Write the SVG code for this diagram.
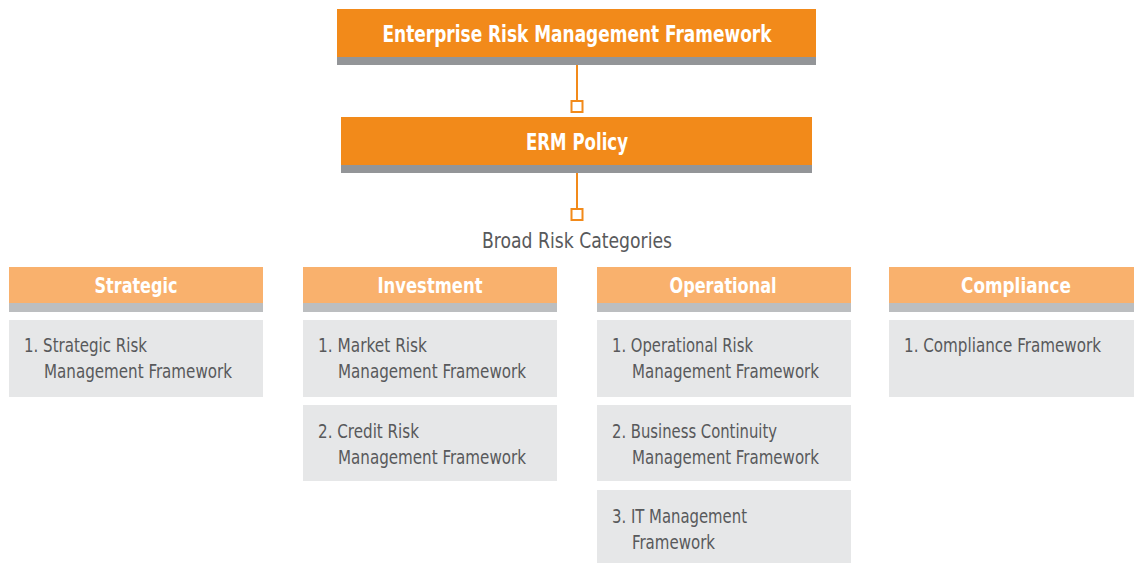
<svg xmlns="http://www.w3.org/2000/svg" width="1134" height="563" viewBox="0 0 1134 563">
<style>
.main{fill:#F28A1A}
.mainbar{fill:#939598}
.cat{fill:#F9B16D}
.catbar{fill:#BCBEC0}
.item{fill:#E6E7E8}
.t{font-family:"Liberation Sans Narrow","DejaVu Sans Condensed","Liberation Sans",sans-serif}
.wt{fill:#FFFFFF;font-weight:bold;text-anchor:middle}
.gt{fill:#58595B;font-size:19px}
.conn{stroke:#F28A1A;stroke-width:2;fill:none}
.sq{stroke:#F28A1A;stroke-width:2;fill:#FFFFFF}
</style>
<rect width="1134" height="563" fill="#FFFFFF"/>
<g id="connectors">
<line class="conn" x1="577" y1="65" x2="577" y2="101"/>
<rect class="sq" x="571.5" y="101" width="11" height="11"/>
<line class="conn" x1="577" y1="173" x2="577" y2="209"/>
<rect class="sq" x="571.5" y="209" width="11" height="11"/>
</g>
<g id="erm-framework">
<rect class="main" x="337" y="9" width="479" height="48"/>
<rect class="mainbar" x="337" y="57" width="479" height="8"/>
<text class="t wt" x="577" y="42" font-size="23" textLength="389" lengthAdjust="spacingAndGlyphs">Enterprise Risk Management Framework</text>
</g>
<g id="erm-policy">
<rect class="main" x="341" y="117" width="471" height="48"/>
<rect class="mainbar" x="341" y="165" width="471" height="8"/>
<text class="t wt" x="577" y="150" font-size="23" textLength="102" lengthAdjust="spacingAndGlyphs">ERM Policy</text>
</g>
<g id="broad-risk-categories">
<text class="t" x="577" y="248" font-size="22" fill="#58595B" text-anchor="middle" textLength="190" lengthAdjust="spacingAndGlyphs">Broad Risk Categories</text>
</g>
<g id="strategic">
<rect class="cat" x="9" y="267" width="254" height="36"/>
<rect class="catbar" x="9" y="303" width="254" height="9"/>
<text class="t wt" x="136" y="293" font-size="21" textLength="83" lengthAdjust="spacingAndGlyphs">Strategic</text>
</g>
<g id="strategic-1">
<rect class="item" x="9" y="320" width="254" height="77"/>
<text class="t gt" x="24" y="352" textLength="123" lengthAdjust="spacingAndGlyphs">1. Strategic Risk</text>
<text class="t gt" x="44" y="378" textLength="188" lengthAdjust="spacingAndGlyphs">Management Framework</text>
</g>
<g id="investment">
<rect class="cat" x="303" y="267" width="254" height="36"/>
<rect class="catbar" x="303" y="303" width="254" height="9"/>
<text class="t wt" x="430" y="293" font-size="21" textLength="105" lengthAdjust="spacingAndGlyphs">Investment</text>
</g>
<g id="investment-1">
<rect class="item" x="303" y="320" width="254" height="77"/>
<text class="t gt" x="318" y="352" textLength="109" lengthAdjust="spacingAndGlyphs">1. Market Risk</text>
<text class="t gt" x="338" y="378" textLength="188" lengthAdjust="spacingAndGlyphs">Management Framework</text>
</g>
<g id="investment-2">
<rect class="item" x="303" y="405" width="254" height="76"/>
<text class="t gt" x="318" y="438" textLength="101" lengthAdjust="spacingAndGlyphs">2. Credit Risk</text>
<text class="t gt" x="338" y="464" textLength="188" lengthAdjust="spacingAndGlyphs">Management Framework</text>
</g>
<g id="operational">
<rect class="cat" x="597" y="267" width="254" height="36"/>
<rect class="catbar" x="597" y="303" width="254" height="9"/>
<text class="t wt" x="723" y="293" font-size="21" textLength="107" lengthAdjust="spacingAndGlyphs">Operational</text>
</g>
<g id="operational-1">
<rect class="item" x="597" y="320" width="254" height="77"/>
<text class="t gt" x="612" y="352" textLength="141" lengthAdjust="spacingAndGlyphs">1. Operational Risk</text>
<text class="t gt" x="632" y="378" textLength="187" lengthAdjust="spacingAndGlyphs">Management Framework</text>
</g>
<g id="operational-2">
<rect class="item" x="597" y="405" width="254" height="76"/>
<text class="t gt" x="612" y="438" textLength="165" lengthAdjust="spacingAndGlyphs">2. Business Continuity</text>
<text class="t gt" x="632" y="464" textLength="187" lengthAdjust="spacingAndGlyphs">Management Framework</text>
</g>
<g id="operational-3">
<rect class="item" x="597" y="490" width="254" height="73"/>
<text class="t gt" x="612" y="523" textLength="135" lengthAdjust="spacingAndGlyphs">3. IT Management</text>
<text class="t gt" x="632" y="549" textLength="83" lengthAdjust="spacingAndGlyphs">Framework</text>
</g>
<g id="compliance">
<rect class="cat" x="889" y="267" width="245" height="36"/>
<rect class="catbar" x="889" y="303" width="245" height="9"/>
<text class="t wt" x="1016" y="293" font-size="21" textLength="110" lengthAdjust="spacingAndGlyphs">Compliance</text>
</g>
<g id="compliance-1">
<rect class="item" x="889" y="320" width="245" height="77"/>
<text class="t gt" x="904" y="352" textLength="197" lengthAdjust="spacingAndGlyphs">1. Compliance Framework</text>
</g>
</svg>
